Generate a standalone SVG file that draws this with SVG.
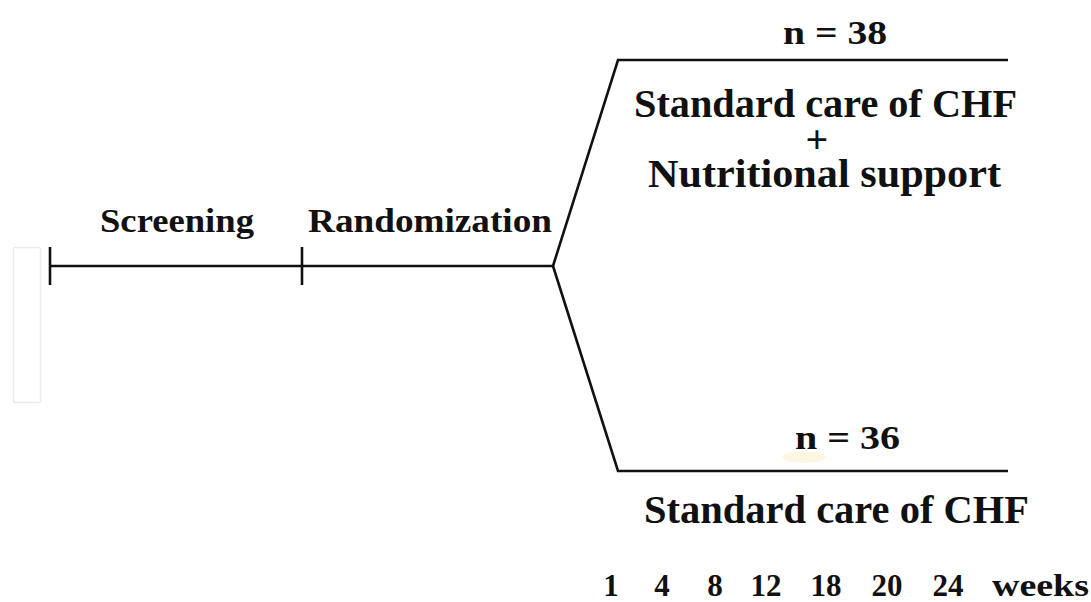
<svg xmlns="http://www.w3.org/2000/svg" width="1091" height="602" viewBox="0 0 1091 602">
  <style>
    .ln { fill: none; stroke: #111; stroke-width: 2.6; stroke-linejoin: miter; }
    .t { font-family: "Liberation Serif", "DejaVu Serif", serif; font-weight: bold; fill: #111; }
    .lbl { font-size: 34px; }
    .n { font-size: 33px; }
    .arm { font-size: 39px; }
    .plus { font-size: 40px; text-anchor: middle; }
    .wk { font-size: 31px; text-anchor: middle; }
  </style>
  <rect x="0" y="0" width="1091" height="602" fill="#ffffff"/>
  <rect x="13.5" y="247.5" width="27" height="155" rx="2" fill="none" stroke="#ececec" stroke-width="1.5"/>
  <ellipse cx="804" cy="457" rx="22" ry="6" fill="#fdf6e3"/>

  <g id="connectors">
    <line class="ln" x1="50" y1="266" x2="553" y2="266"/>
    <line class="ln" x1="50" y1="247" x2="50" y2="285"/>
    <line class="ln" x1="302" y1="247" x2="302" y2="285"/>
    <polyline class="ln" points="553,266 618,60 1008,60"/>
    <polyline class="ln" points="553,266 618,471 1008,471"/>
  </g>

  <g id="screening">
    <text class="t lbl" x="100" y="232" textLength="154" lengthAdjust="spacingAndGlyphs">Screening</text>
  </g>
  <g id="randomization">
    <text class="t lbl" x="308" y="232" textLength="244" lengthAdjust="spacingAndGlyphs">Randomization</text>
  </g>
  <g id="arm-intervention">
    <text class="t n" x="783" y="44" textLength="104" lengthAdjust="spacingAndGlyphs">n = 38</text>
    <text class="t arm" x="634" y="117" textLength="383" lengthAdjust="spacingAndGlyphs">Standard care of CHF</text>
    <text class="t plus" x="817" y="153">+</text>
    <text class="t arm" x="648" y="187" textLength="353" lengthAdjust="spacingAndGlyphs">Nutritional support</text>
  </g>
  <g id="arm-control">
    <text class="t n" x="795" y="449" textLength="105" lengthAdjust="spacingAndGlyphs">n = 36</text>
    <text class="t arm" x="644" y="523" textLength="385" lengthAdjust="spacingAndGlyphs">Standard care of CHF</text>
  </g>
  <g id="timeline">
    <text class="t wk" x="611" y="596">1</text>
    <text class="t wk" x="662" y="596">4</text>
    <text class="t wk" x="715" y="596">8</text>
    <text class="t wk" x="766" y="596">12</text>
    <text class="t wk" x="826" y="596">18</text>
    <text class="t wk" x="887" y="596">20</text>
    <text class="t wk" x="948" y="596">24</text>
    <text class="t" x="992" y="596" font-size="31" textLength="97" lengthAdjust="spacingAndGlyphs">weeks</text>
  </g>
</svg>
